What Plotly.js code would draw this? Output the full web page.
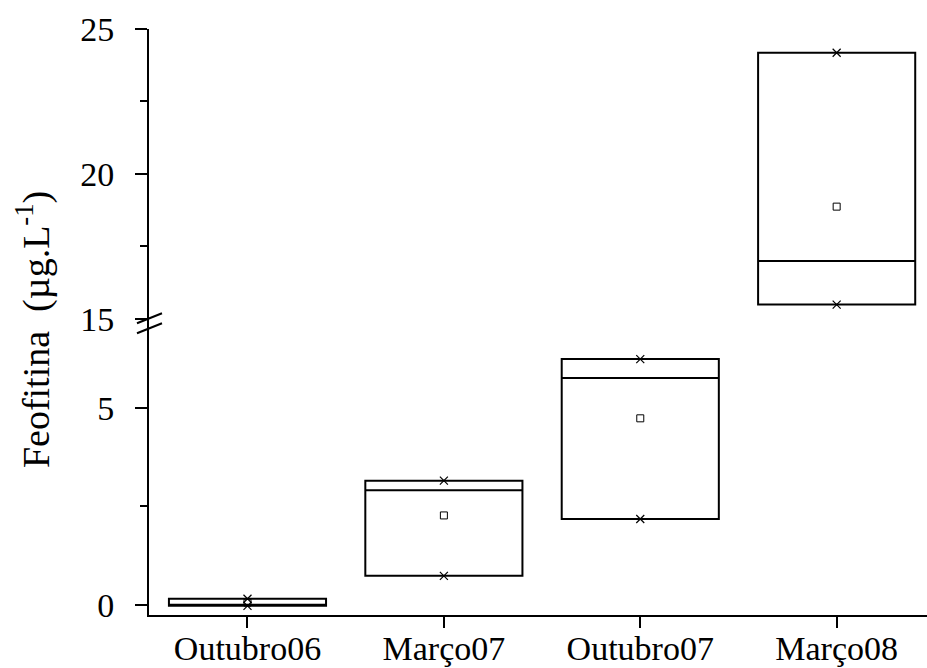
<!DOCTYPE html>
<html>
<head>
<meta charset="utf-8">
<script src="https://cdn.plot.ly/plotly-3.0.1.min.js"></script>
<style>html,body{margin:0;padding:0;background:#fff}#chart{width:927px;height:668px}</style>
</head>
<body>
<div id="chart"></div>
<script>
// ---- data ----
const categories = ['Outubro06', 'Março07', 'Outubro07', 'Março08'];
const boxLow    = [-0.02, 0.74, 2.18, 15.49];   // 25th percentile (box bottom)
const boxHigh   = [0.16, 3.15, 6.23, 24.18];    // 75th percentile (box top)
const medians   = [-0.02, 2.91, 5.75, 16.99];
const means     = [0.06, 2.27, 4.73, 18.87];
const minVals   = [-0.02, 0.74, 2.18, 15.49];
const maxVals   = [0.16, 3.15, 6.23, 24.18];
const upperIdx  = [3];                            // drawn on the upper (broken) segment
const lowerTicks = [0, 5];
const upperTicks = [15, 20, 25];

// ---- build traces ----
const FONT = 'Liberation Serif, Times New Roman, serif';
const xs = categories.map((c, i) => i);
function pick(arr, upper) { return arr.filter((v, i) => upperIdx.includes(i) === upper); }

const traces = [];
[false, true].forEach(upper => {
  const ax = upper ? 'y2' : 'y';
  const x = pick(xs, upper);
  traces.push({
    type: 'box', x: x, yaxis: ax,
    q1: pick(boxLow, upper), median: pick(medians, upper), q3: pick(boxHigh, upper),
    lowerfence: pick(boxLow, upper), upperfence: pick(boxHigh, upper),
    width: 0.8, whiskerwidth: 0, boxpoints: false,
    line: {color: '#000', width: 2}, fillcolor: 'rgba(0,0,0,0)',
    hoverinfo: 'skip', showlegend: false
  });
  traces.push({
    type: 'scatter', mode: 'markers', x: x.concat(x), yaxis: ax,
    y: pick(minVals, upper).concat(pick(maxVals, upper)),
    marker: {symbol: 'x-thin-open', size: 8, color: '#000', line: {color: '#000', width: 1.2}},
    hoverinfo: 'skip', showlegend: false
  });
  traces.push({
    type: 'scatter', mode: 'markers', x: x, yaxis: ax, y: pick(means, upper),
    marker: {symbol: 'square-open', size: 7, color: '#000', line: {color: '#000', width: 1}},
    hoverinfo: 'skip', showlegend: false
  });
});

const split = 0.4966;
const tickFont = {family: FONT, size: 34, color: '#000'};
const yCommon = {
  showline: true, linecolor: '#000', linewidth: 2, zeroline: false, showgrid: false,
  ticks: 'outside', ticklen: 12, tickwidth: 2, tickcolor: '#000',
  tickfont: tickFont, ticklabelstandoff: 14, anchor: 'x',
  minor: {ticks: 'outside', dtick: 2.5, tick0: 0, ticklen: 7, tickwidth: 2, tickcolor: '#000', showgrid: false}
};

const layout = {
  width: 927, height: 668,
  margin: {l: 149, r: 0, t: 29, b: 53, pad: 0},
  paper_bgcolor: '#fff', plot_bgcolor: '#fff',
  showlegend: false, boxmode: 'overlay',
  xaxis: {
    range: [-0.5015, 3.46], showline: true, linecolor: '#000', linewidth: 2,
    zeroline: false, showgrid: false,
    tickmode: 'array', tickvals: xs, ticktext: categories,
    ticks: 'outside', ticklen: 11, tickwidth: 2, tickcolor: '#000',
    tickfont: tickFont, ticklabelstandoff: -9, anchor: 'y'
  },
  yaxis: Object.assign({}, yCommon, {domain: [0, split], range: [-0.253, 7.12], tickmode: 'array', tickvals: lowerTicks}),
  yaxis2: Object.assign({}, yCommon, {domain: [split, 1], range: [14.82, 25], tickmode: 'array', tickvals: upperTicks}),
  shapes: [
    {type: 'line', xref: 'paper', yref: 'paper', xsizemode: 'pixel', ysizemode: 'pixel',
     xanchor: 0, yanchor: split, x0: -12, x1: 13, y0: 0.7, y1: 10.7, line: {color: '#000', width: 2}},
    {type: 'line', xref: 'paper', yref: 'paper', xsizemode: 'pixel', ysizemode: 'pixel',
     xanchor: 0, yanchor: split, x0: -12, x1: 13, y0: -9.3, y1: 0.7, line: {color: '#000', width: 2}}
  ],
  annotations: [{
    text: 'Feofitina\u00a0\u00a0(µg.L<sup>-1</sup>)', textangle: -90,
    xref: 'paper', yref: 'paper', x: -0.149, y: 0.4863, xanchor: 'center', yanchor: 'middle',
    showarrow: false, font: {family: FONT, size: 38, color: '#000'}
  }]
};

Plotly.newPlot('chart', traces, layout, {staticPlot: true, displayModeBar: false});
</script>
</body>
</html>
